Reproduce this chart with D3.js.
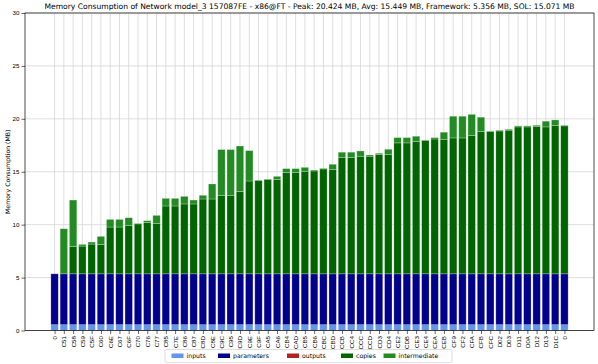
<!DOCTYPE html>
<html>
<head>
<meta charset="utf-8">
<script src="https://cdn.jsdelivr.net/npm/d3@7"></script>
<style>
  body { margin: 0; background: #fff; }
  svg { font-family: "DejaVu Sans", sans-serif; }
</style>
</head>
<body>
<div id="chart"></div>
<script>
/* Stacked memory consumption per layer */

const categories = ["0", "C51", "C58", "C59", "C5F", "C60", "C6E", "C67", "C6F", "C70",
    "C76", "C77", "C85", "C7E", "C86", "C87", "C8D", "C8E", "C9C", "C95",
    "C9D", "C9E", "C9F", "CA5", "CA6", "CB4", "CAD", "CB5", "CB6", "CBC",
    "CBD", "CCB", "CC4", "CCC", "CCD", "CD3", "CD4", "CE2", "CDB", "CE3",
    "CE4", "CEA", "CEB", "CF9", "CF2", "CFA", "CFB", "CFC", "D02", "D03",
    "D11", "D0A", "D12", "D13", "D1C", "0"];

const inputs = [0.55, 0.55, 0.55, 0.55, 0.55, 0.55, 0.55, 0.55, 0.55, 0.55,
    0.55, 0.55, 0.55, 0.55, 0.55, 0.55, 0.55, 0.55, 0.55, 0.55,
    0.55, 0.55, 0.55, 0.55, 0.55, 0.55, 0.55, 0.55, 0.55, 0.55,
    0.55, 0.55, 0.55, 0.55, 0.55, 0.55, 0.55, 0.55, 0.55, 0.55,
    0.55, 0.55, 0.55, 0.55, 0.55, 0.55, 0.55, 0.55, 0.55, 0.55,
    0.55, 0.55, 0.55, 0.55, 0.55, 0.55];

const parameters = [4.806, 4.806, 4.806, 4.806, 4.806, 4.806, 4.806, 4.806, 4.806, 4.806,
    4.806, 4.806, 4.806, 4.806, 4.806, 4.806, 4.806, 4.806, 4.806, 4.806,
    4.806, 4.806, 4.806, 4.806, 4.806, 4.806, 4.806, 4.806, 4.806, 4.806,
    4.806, 4.806, 4.806, 4.806, 4.806, 4.806, 4.806, 4.806, 4.806, 4.806,
    4.806, 4.806, 4.806, 4.806, 4.806, 4.806, 4.806, 4.806, 4.806, 4.806,
    4.806, 4.806, 4.806, 4.806, 4.806, 4.806];

const outputs = [0, 0, 0, 0, 0, 0, 0, 0, 0, 0,
    0, 0, 0, 0, 0, 0, 0, 0, 0, 0,
    0, 0, 0, 0, 0, 0, 0, 0, 0, 0,
    0, 0, 0, 0, 0, 0, 0, 0, 0, 0,
    0, 0, 0, 0, 0, 0, 0, 0, 0, 0,
    0, 0, 0, 0, 0, 0];

const copies = [0, 0, 2.59, 2.62, 2.81, 2.78, 4.42, 4.42, 4.58, 4.72,
    4.86, 4.77, 6.41, 6.41, 6.60, 6.60, 7.07, 7.07, 7.42, 7.42,
    7.79, 8.77, 8.82, 8.92, 8.90, 9.59, 9.59, 9.69, 9.72, 9.91,
    9.84, 10.98, 10.98, 11.11, 11.11, 11.26, 11.26, 12.37, 12.37, 12.49,
    12.59, 12.74, 12.71, 12.84, 12.84, 13.06, 13.44, 13.44, 13.50, 13.57,
    13.88, 13.88, 13.94, 13.88, 14.01, 13.98];

const intermediate = [0, 4.26, 4.38, 0.16, 0.19, 0.76, 0.72, 0.72, 0.72, 0.05,
    0.16, 0.75, 0.72, 0.72, 0.72, 0.37, 0.35, 1.42, 4.32, 4.32,
    4.29, 2.87, 0.04, 0.04, 0.31, 0.35, 0.35, 0.37, 0.09, 0.06,
    0.51, 0.51, 0.51, 0.50, 0.12, 0.13, 0.51, 0.50, 0.50, 0.51,
    0.06, 0.13, 0.67, 2.05, 2.05, 2.01, 1.36, 0.06, 0.07, 0.09,
    0.10, 0.10, 0.10, 0.54, 0.53, 0.06];

const seriesNames = ["inputs", "parameters", "outputs", "copies", "intermediate"];
const yTicks = [0, 5, 10, 15, 20, 25, 30];
const title = "Memory Consumption of Network model_3 157087FE - x86@FT - Peak: 20.424 MB, Avg: 15.449 MB, Framework: 5.356 MB, SOL: 15.071 MB";

// Page layout
const width = 598,
      height = 364,
      margin = ({ top: 13, right: 4, bottom: 33.5, left: 25 });

const colors = {
    inputs: "#6495ed",
    parameters: "#00008b",
    outputs: "#b22222",
    copies: "#006400",
    intermediate: "#228b22"
};

// build rows for the stack
let data = categories.map((c, i) => ({
    idx: i,
    name: c,
    inputs: inputs[i],
    parameters: parameters[i],
    outputs: outputs[i],
    copies: copies[i],
    intermediate: intermediate[i]
}));

let stacked = d3.stack().keys(seriesNames)(data);

let svg = d3.select("#chart")
    .append("svg")
    .attr("width", width)
    .attr("height", height);

// matplotlib style: bars 0.8 wide, 5% margin each side
const n = categories.length,
      span = (n - 1) + 0.8;

let x = d3.scaleLinear()
    .domain([-0.4 - 0.05 * span, n - 1 + 0.4 + 0.05 * span])
    .range([margin.left, width - margin.right]);

let y = d3.scaleLinear()
    .domain([0, 30])
    .range([height - margin.bottom, margin.top]);

const barW = x(0.8) - x(0);

// grid lines
svg.append("g")
    .selectAll("line")
    .data(data)
    .join("line")
    .attr("x1", d => x(d.idx))
    .attr("x2", d => x(d.idx))
    .attr("y1", y(0))
    .attr("y2", y(30))
    .attr("stroke", "#d6d6d6")
    .attr("stroke-width", 0.8);

svg.append("g")
    .selectAll("line")
    .data(yTicks)
    .join("line")
    .attr("x1", margin.left)
    .attr("x2", width - margin.right)
    .attr("y1", d => y(d))
    .attr("y2", d => y(d))
    .attr("stroke", "#d6d6d6")
    .attr("stroke-width", 0.8);

// stacked bars
svg.append("g")
    .selectAll("g")
    .data(stacked)
    .join("g")
    .attr("fill", d => colors[d.key])
    .selectAll("rect")
    .data(d => d.filter(s => s[1] - s[0] > 0))
    .join("rect")
    .attr("x", d => x(d.data.idx) - barW / 2)
    .attr("width", barW)
    .attr("y", d => y(d[1]))
    .attr("height", d => y(d[0]) - y(d[1]))
    .attr("stroke", "rgba(255,255,255,0.35)")
    .attr("stroke-width", 0.7);

// axes
let yAxis = svg.append("g")
    .attr("transform", `translate(${margin.left},0)`)
    .call(d3.axisLeft(y).tickValues(yTicks).tickSize(3.5).tickPadding(2));

let xAxis = svg.append("g")
    .attr("transform", `translate(0,${y(0)})`)
    .call(d3.axisBottom(x).tickValues(d3.range(n)).tickFormat(i => categories[i]).tickSize(3.5).tickPadding(2));

xAxis.selectAll("text")
    .attr("transform", "rotate(-90)")
    .attr("text-anchor", "end")
    .attr("dy", "0.32em")
    .attr("x", -5.5)
    .attr("y", 0);

for (let ax of [xAxis, yAxis]) {
    ax.select(".domain").remove();
    ax.selectAll("text").style("font-size", "6.2px").attr("fill", "#000");
    ax.selectAll("line").attr("stroke", "#000").attr("stroke-width", 0.6);
}

// frame
svg.append("rect")
    .attr("x", margin.left)
    .attr("y", margin.top)
    .attr("width", width - margin.left - margin.right)
    .attr("height", y(0) - margin.top)
    .attr("fill", "none")
    .attr("stroke", "#000")
    .attr("stroke-width", 0.7);

// title and y label
svg.append("text")
    .attr("x", (margin.left + width - margin.right) / 2)
    .attr("y", 9)
    .attr("text-anchor", "middle")
    .style("font-size", "7.6px")
    .text(title);

svg.append("text")
    .attr("transform", `translate(8,${(y(0) + y(30)) / 2}) rotate(-90)`)
    .attr("text-anchor", "middle")
    .attr("dy", "0.35em")
    .style("font-size", "6.2px")
    .text("Memory Consumption (MB)");

// legend
let legend = svg.append("g");

legend.append("rect")
    .attr("x", 165)
    .attr("y", 349.5)
    .attr("width", 287)
    .attr("height", 13)
    .attr("rx", 1.5)
    .attr("fill", "#fff")
    .attr("stroke", "#d0d0d0")
    .attr("stroke-width", 0.7);

const legendX = [171.5, 218, 287, 341, 383.5];

let item = legend.selectAll(".item")
    .data(seriesNames)
    .join("g")
    .attr("class", "item")
    .attr("transform", (d, i) => `translate(${legendX[i]},356)`);

item.append("rect")
    .attr("x", 0)
    .attr("y", -2.5)
    .attr("width", 12)
    .attr("height", 4.5)
    .attr("fill", d => colors[d]);

item.append("text")
    .attr("x", 15)
    .attr("dy", "0.32em")
    .style("font-size", "6.2px")
    .text(d => d);
</script>
</body>
</html>
